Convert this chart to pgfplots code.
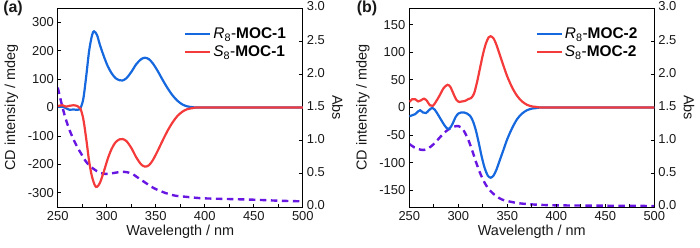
\documentclass[border=0pt]{standalone}
\usepackage{fontspec}
\setmainfont{Liberation Sans}
\usepackage{pgfplots}
\pgfplotsset{compat=1.18}
\definecolor{cdblue}{RGB}{22,104,222}
\definecolor{cdred}{RGB}{244,58,58}
\definecolor{abspurple}{RGB}{104,22,226}

\pgfplotsset{
  common/.style={
    scale only axis, width=245bp, height=199bp,
    xmin=250, xmax=500, anchor=south west,
    axis line style={line width=0.9pt, black},
    tick style={black, line width=0.8pt},
    major tick length=3.5bp, minor tick length=3.5bp,
    tick align=inside,
    ticklabel style={font=\fontsize{13}{14}\selectfont, color=black!90},
    label style={font=\fontsize{14.5}{16}\selectfont, color=black!90},
    /pgf/number format/assume math mode=true,
  },
  leftax/.style={common,
    xtick={250,300,...,500}, minor x tick num=1,
    xtick pos=bottom, ytick pos=left,
    xticklabel style={yshift=-1bp},
    yticklabel style={xshift=-0.5bp},
    xlabel={Wavelength / nm}, ylabel={CD intensity / mdeg},
    xlabel style={at={(axis description cs:0.5,-0.126)}, anchor=center},
    ylabel style={at={(axis description cs:-0.189,0.5)}, anchor=center},
    legend style={draw=none, fill=none, at={(0.94,0.91)}, anchor=north east,
      font=\fontsize{15.5}{17}\selectfont, row sep=1.5bp, inner sep=0pt,
      nodes={inner sep=2pt}},
    legend cell align=left,
    legend image post style={line width=2.2pt},
    legend image code/.code={\draw[#1] (0bp,0bp) -- (25bp,0bp);},
  },
  rightax/.style={common,
    ymin=0, ymax=3, ytick={0,0.5,...,3},
    axis y line*=right, axis x line=none,
    yticklabel style={yshift=1.5bp, xshift=0.5bp,
      /pgf/number format/.cd, fixed, fixed zerofill, precision=1},
    ylabel={Abs},
    ylabel style={at={(axis description cs:1.142,0.5)}, anchor=center, rotate=180},
  },
  cd/.style={line width=2.2pt, smooth, tension=0.5},
  ab/.style={line width=2.4pt, abspurple, dash pattern=on 6.5bp off 4.5bp, smooth, tension=0.5},
}

\begin{document}
\begin{tikzpicture}[x=1bp,y=1bp]
\path[use as bounding box] (0,0) rectangle (700,247);

% ---------- Panel (a) ----------
\begin{axis}[rightax, at={(57.8bp,40bp)}]
\addplot[ab] coordinates {
(250,1.80)(254,1.55)(258,1.33)(262,1.16)(266,1.02)(270,0.90)(274,0.80)(278,0.70)
(282,0.63)(286,0.58)(290,0.54)(294,0.51)(298,0.50)(302,0.50)(306,0.51)(310,0.52)
(314,0.53)(318,0.53)(322,0.52)(326,0.50)(330,0.46)(335,0.41)(340,0.36)(345,0.31)
(350,0.27)(355,0.24)(360,0.21)(365,0.19)(370,0.17)(380,0.155)(390,0.14)(400,0.13)
(425,0.12)(450,0.11)(475,0.095)(500,0.085)};
\end{axis}
\begin{axis}[leftax, at={(57.8bp,40bp)}, ymin=-350, ymax=350, ytick={-300,-200,...,300}]
\addplot[cd, cdblue] coordinates {
(250,2)(255,3)(258,-2)(262,-8)(266,-7)(270,-8)(273,-3)(276,30)(279,110)(282,200)
(285,255)(287,268)(290,255)(293,220)(297,180)(301,145)(305,120)(309,103)(313,96)
(316,95)(320,103)(325,125)(330,152)(335,170)(339,175)(343,170)(347,155)(352,128)
(357,97)(362,68)(367,43)(372,24)(377,11)(382,4)(388,1)(395,0)(450,0)(500,0)};
\addlegendentry{\textit{R}\textsubscript{8}-\textbf{MOC-1}}
\addplot[cd, cdred] coordinates {
(250,5)(255,8)(258,3)(262,6)(266,8)(270,5)(273,-3)(276,-40)(279,-110)(282,-190)
(285,-245)(288,-275)(290,-279)(293,-265)(297,-225)(301,-180)(305,-145)(309,-122)
(313,-112)(316,-111)(320,-118)(325,-142)(330,-175)(335,-200)(339,-208)(343,-203)
(347,-185)(352,-152)(357,-116)(362,-82)(367,-53)(372,-30)(377,-15)(382,-6)(388,-2)
(395,0)(450,0)(500,0)};
\addlegendentry{\textit{S}\textsubscript{8}-\textbf{MOC-1}}
\end{axis}
\node[font=\bfseries\fontsize{16}{18}\selectfont, color=black!90] at (13,239) {(a)};

% ---------- Panel (b) ----------
\begin{axis}[rightax, at={(409.3bp,40bp)}]
\addplot[ab] coordinates {
(250,0.95)(255,0.90)(260,0.87)(265,0.86)(270,0.89)(275,0.95)(280,1.03)(285,1.11)
(290,1.17)(295,1.21)(300,1.22)(303,1.20)(306,1.14)(310,1.02)(314,0.86)(318,0.68)
(322,0.52)(326,0.39)(330,0.29)(335,0.21)(340,0.15)(345,0.11)(350,0.09)(360,0.06)
(370,0.045)(380,0.035)(400,0.025)(450,0.02)(500,0.015)};
\end{axis}
\begin{axis}[leftax, at={(409.3bp,40bp)}, ymin=-180, ymax=180, ytick={-150,-100,...,150}]
\addplot[cd, cdblue] coordinates {
(250,-16)(253,-14)(256,-12)(259,-7)(261,-5)(264,-9)(267,-10)(270,-5)(273,-1)(276,-4)
(280,-15)(284,-27)(288,-37)(291,-38)(294,-30)(297,-18)(300,-11)(303,-9)(306,-9)
(309,-11)(312,-15)(315,-25)(318,-42)(321,-65)(324,-90)(327,-110)(330,-123)(333,-127)
(336,-123)(339,-112)(342,-97)(346,-77)(350,-57)(355,-37)(360,-21)(365,-11)(370,-5)
(375,-2)(380,-1)(388,0)(450,0)(500,0)};
\addlegendentry{\textit{R}\textsubscript{8}-\textbf{MOC-2}}
\addplot[cd, cdred] coordinates {
(250,10)(253,15)(256,15)(259,11)(262,13)(265,16)(268,12)(271,4)(274,3)(277,10)
(281,22)(285,35)(289,41)(292,37)(295,25)(298,14)(301,10)(304,11)(307,12)(310,15)
(313,17)(316,25)(319,45)(322,70)(325,95)(328,115)(331,127)(333,129)(336,125)
(339,113)(342,97)(346,76)(350,56)(355,36)(360,21)(365,11)(370,5)(375,2)(380,1)
(388,0)(450,0)(500,0)};
\addlegendentry{\textit{S}\textsubscript{8}-\textbf{MOC-2}}
\end{axis}
\node[font=\bfseries\fontsize{16}{18}\selectfont, color=black!90] at (367,239) {(b)};
\end{tikzpicture}
\end{document}
